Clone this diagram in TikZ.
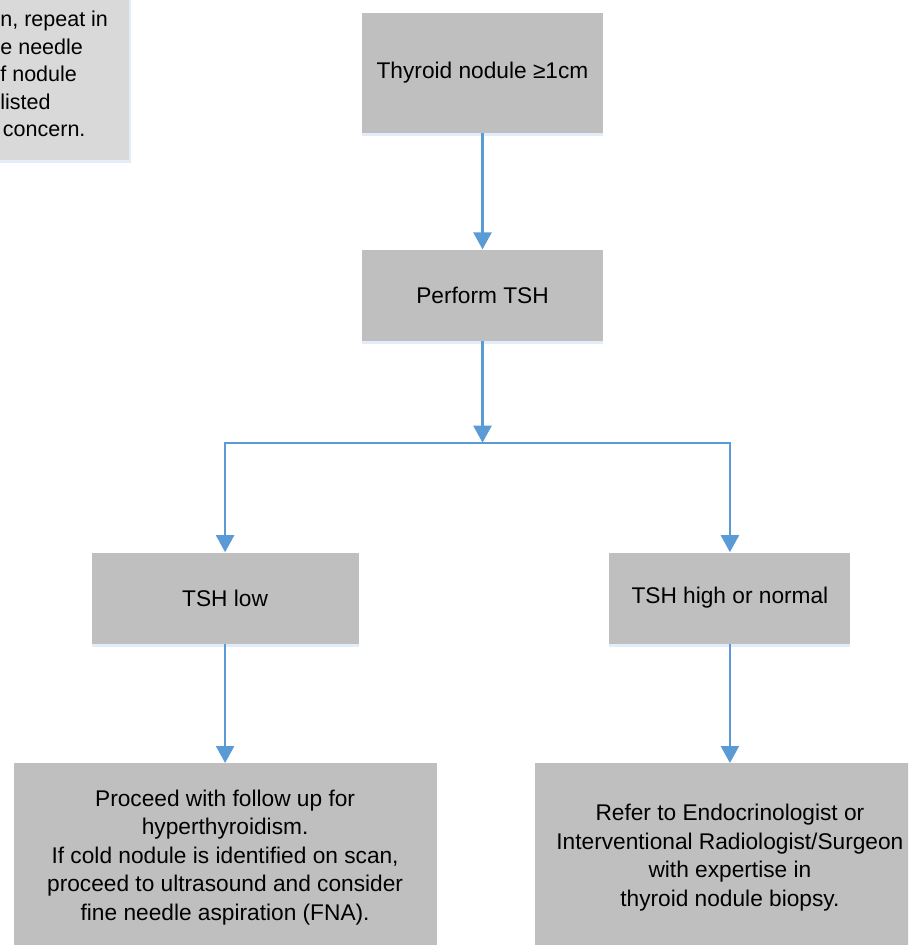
\documentclass[tikz,border=0pt]{standalone}
\usepackage{fontspec}
\setmainfont{Liberation Sans}
\usepackage{xcolor}
\usetikzlibrary{arrows.meta, positioning, shadows}

\definecolor{boxgray}{HTML}{BFBFBF}
\definecolor{notegray}{HTML}{D9D9D9}
\definecolor{flowblue}{HTML}{5B9BD5}
\definecolor{glowblue}{HTML}{E3EDF8}

\begin{document}
\begin{tikzpicture}[
        x=1pt, y=1pt,
        stepbox/.style={rectangle, fill=boxgray, minimum width=120.5pt, minimum height=45.5pt, align=center,
            font=\fontsize{11.35}{14.25}\selectfont, inner sep=2pt,
            drop shadow={shadow xshift=0pt, shadow yshift=-1.5pt, fill=glowblue, opacity=1}},
        notebox/.style={rectangle, fill=notegray, minimum width=150pt, minimum height=130pt,
            drop shadow={shadow xshift=1pt, shadow yshift=-1.5pt, fill=glowblue, opacity=1}},
        notetext/.style={align=left, inner sep=0pt, font=\fontsize{10.75}{13.75}\selectfont},
        arrow/.style={-{Triangle[width=9pt, length=8.5pt]}, line width=1.2pt, draw=flowblue}
    ]
        \useasboundingbox (0,0) rectangle (454,-472.5);
        \clip (0,0) rectangle (454,-472.5);

        % note in the corner, cut off by the page
        \node[notebox, anchor=south east] (note) at (64.5,-80) {};
        \node[notetext, anchor=base west] (notetxt) at (0,-68.5) {n, repeat in\\e needle\\f nodule\\listed\\\hspace{1.3pt}concern.};

        % main flow
        \node[stepbox, minimum height=60pt] (nodule) at (241.25,-36.5) {Thyroid nodule ≥1cm};
        \node[stepbox, below=58pt of nodule] (tsh) {Perform TSH};
        \coordinate[below=50.75pt of tsh] (split);

        % two branches
        \node[stepbox, minimum width=133.5pt, below left=54.75pt and 61.75pt of split] (low) {TSH low};
        \node[stepbox, below right=54.75pt and 63.25pt of split] (high) {TSH high or normal};

        \node[stepbox, minimum width=211.5pt, minimum height=94pt, below=59.5pt of low] (follow) {Proceed with follow up for\\hyperthyroidism.\\If cold nodule is identified on scan,\\proceed to ultrasound and consider\\fine needle aspiration (FNA).};
        \node[stepbox, minimum width=194.5pt, minimum height=94pt, below=59.5pt of high] (refer) {Refer to Endocrinologist or\\Interventional Radiologist/Surgeon\\with expertise in\\thyroid nodule biopsy.};

        \draw[arrow] (nodule) -- (tsh);
        \draw[arrow] (tsh) -- (split);
        \draw[arrow] (split) -| (low);
        \draw[arrow] (split) -| (high);
        \draw[arrow] (low) -- (follow);
        \draw[arrow] (high) -- (refer);
    \end{tikzpicture}
\end{document}
